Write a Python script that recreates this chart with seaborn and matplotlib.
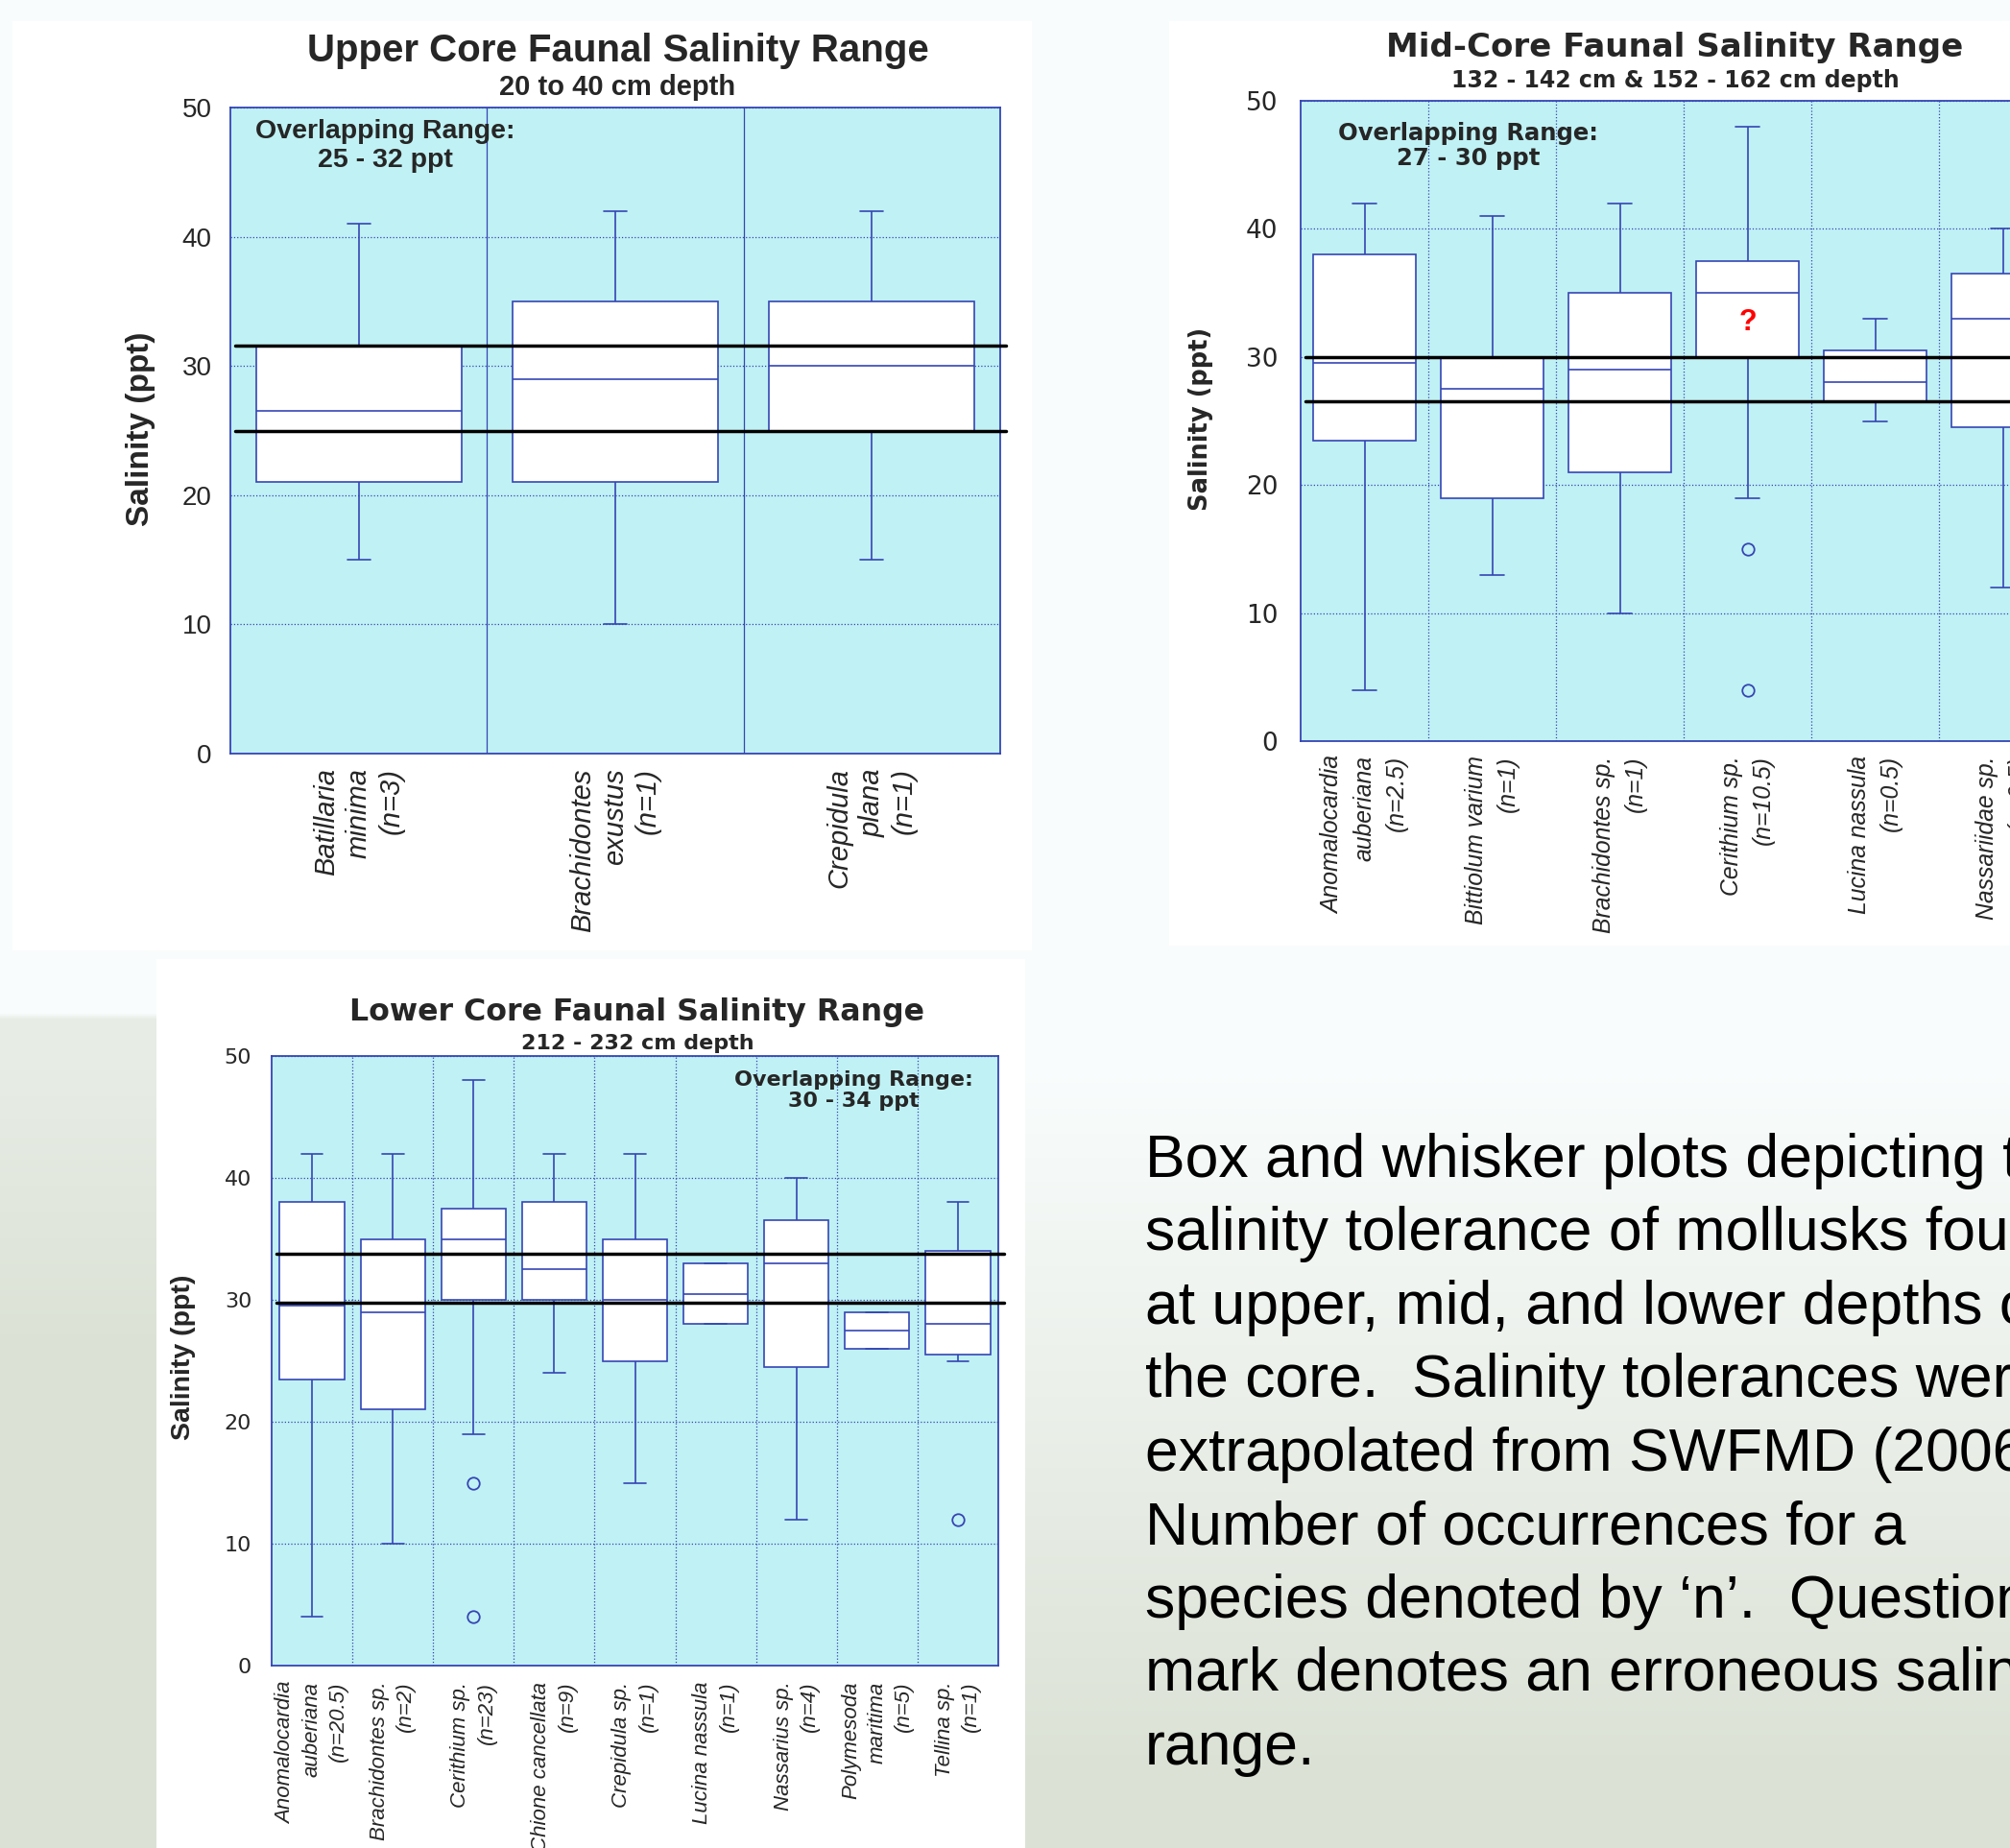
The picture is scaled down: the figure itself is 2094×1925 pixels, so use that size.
import numpy as np
import pandas as pd
import seaborn as sns
import matplotlib.pyplot as plt
from matplotlib.patches import Rectangle

W, H = 2094, 1925
BLUE = "#3545b5"
CYAN = "#c0f1f4"

# ---- upper core, 20 to 40 cm ----
upper_species = ["Batillaria\nminima\n(n=3)", "Brachidontes\nexustus\n(n=1)", "Crepidula\nplana\n(n=1)"]
upper_low = [15, 10, 15]
upper_q1 = [21, 21, 25]
upper_med = [26.5, 29, 30]
upper_q3 = [31.5, 35, 35]
upper_high = [41, 42, 42]
upper_out_species = []
upper_out_vals = []
upper_overlap = [25, 31.6]

# ---- mid core, 132-142 & 152-162 cm ----
mid_species = ["Anomalocardia\nauberiana\n(n=2.5)", "Bittiolum varium\n(n=1)", "Brachidontes sp.\n(n=1)",
               "Cerithium sp.\n(n=10.5)", "Lucina nassula\n(n=0.5)", "Nassariidae sp.\n(n=0.5)"]
mid_low = [4, 13, 10, 19, 25, 12]
mid_q1 = [23.5, 19, 21, 30, 26.5, 24.5]
mid_med = [29.5, 27.5, 29, 35, 28, 33]
mid_q3 = [38, 30, 35, 37.5, 30.5, 36.5]
mid_high = [42, 41, 42, 48, 33, 40]
mid_out_species = ["Cerithium sp.\n(n=10.5)", "Cerithium sp.\n(n=10.5)"]
mid_out_vals = [15, 4]
mid_overlap = [26.5, 30]
mid_flag_species = "Cerithium sp.\n(n=10.5)"
mid_flag_val = 32.7

# ---- lower core, 212-232 cm ----
lower_species = ["Anomalocardia\nauberiana\n(n=20.5)", "Brachidontes sp.\n(n=2)", "Cerithium sp.\n(n=23)",
                 "Chione cancellata\n(n=9)", "Crepidula sp.\n(n=1)", "Lucina nassula\n(n=1)",
                 "Nassarius sp.\n(n=4)", "Polymesoda\nmaritima\n(n=5)", "Tellina sp.\n(n=1)"]
lower_low = [4, 10, 19, 24, 15, 28, 12, 26, 25]
lower_q1 = [23.5, 21, 30, 30, 25, 28, 24.5, 26, 25.5]
lower_med = [29.5, 29, 35, 32.5, 30, 30.5, 33, 27.5, 28]
lower_q3 = [38, 35, 37.5, 38, 35, 33, 36.5, 29, 34]
lower_high = [42, 42, 48, 42, 42, 33, 40, 29, 38]
lower_out_species = ["Cerithium sp.\n(n=23)", "Cerithium sp.\n(n=23)", "Tellina sp.\n(n=1)"]
lower_out_vals = [15, 4, 12]
lower_overlap = [29.8, 33.8]

caption = ("Box and whisker plots depicting the\n"
           "salinity tolerance of mollusks found\n"
           "at upper, mid, and lower depths of\n"
           "the core.  Salinity tolerances were\n"
           "extrapolated from SWFMD (2006).\n"
           "Number of occurrences for a\n"
           "species denoted by \u2018n\u2019.  Question\n"
           "mark denotes an erroneous salinity\n"
           "range.")


def fx(px):
    return px / W


def fy(py):
    return 1 - py / H


def long_frame(names, low, q1, med, q3, high):
    rows = []
    for i, name in enumerate(names):
        for v in (low[i], q1[i], med[i], q3[i], high[i]):
            rows.append({"species": name, "salinity": v})
    return pd.DataFrame(rows)


def draw_panel(ax, names, low, q1, med, q3, high, out_names, out_vals, overlap,
               cap_w, sep_style, xfont, xsize, xspacing, yfont, ysize, ypad, xpad):
    df = long_frame(names, low, q1, med, q3, high)
    sns.boxplot(data=df, x="species", y="salinity", order=names, ax=ax,
                whis=(0, 100), width=0.8, color="white", linecolor=BLUE,
                linewidth=1.2, showfliers=False,
                capwidths=np.full(len(names), cap_w))
    if out_vals:
        sns.stripplot(x=out_names, y=out_vals, order=names, jitter=False, ax=ax,
                      size=9, color=CYAN, edgecolor=BLUE, linewidth=1.3, zorder=4)
    for v in overlap:
        ax.axhline(v, xmin=0.006, xmax=1.008, color="black", lw=2.5,
                   clip_on=False, zorder=6)
    ax.set_facecolor(CYAN)
    ax.set_xlim(-0.5, len(names) - 0.5)
    ax.set_ylim(0, 50)
    ax.set_xlabel("")
    ax.set_ylabel("")
    ax.set_yticks(range(0, 51, 10))
    ax.set_yticklabels([str(t) for t in range(0, 51, 10)], family=yfont, fontsize=ysize)
    ax.set_xticks(range(len(names)))
    ax.set_xticklabels(names, rotation=90, ha="center", va="top", multialignment="right",
                       fontstyle="italic", family=xfont, fontsize=xsize, linespacing=xspacing)
    ax.set_xticks(np.arange(0.5, len(names) - 1), minor=True)
    ax.grid(False)
    ax.yaxis.grid(True, which="major", ls=":", color=BLUE, lw=0.9)
    ax.xaxis.grid(True, which="minor", ls=sep_style, color=BLUE, lw=0.9)
    ax.set_axisbelow(True)
    ax.tick_params(axis="both", which="both", length=0)
    ax.tick_params(axis="y", pad=ypad)
    ax.tick_params(axis="x", pad=xpad)
    for s in ax.spines.values():
        s.set_visible(True)
        s.set_color(BLUE)
        s.set_linewidth(1.3)


sns.set_style("white")
plt.rcParams["font.family"] = ["Liberation Sans", "DejaVu Sans"]

fig = plt.figure(figsize=(W / 100, H / 100), dpi=100)

# slide background: pale, fading to a washed-out green-grey near the bottom
bg = fig.add_axes([0, 0, 1, 1], zorder=-10)
ny, nx = 300, 300
yy = np.linspace(0, 1, ny)[:, None]
xx = np.linspace(0, 1, nx)[None, :]
t = np.clip((yy - 0.58) / 0.38, 0, 1) * np.ones_like(xx)
left = ((xx < 0.078) & (yy > 0.55)).astype(float)
t = np.clip(t + 0.6 * left, 0, 1)
top_c = np.array([0.975, 0.99, 0.99])
bot_c = np.array([0.86, 0.885, 0.835])
img = top_c[None, None, :] * (1 - t[..., None]) + bot_c[None, None, :] * t[..., None]
bg.imshow(img, extent=[0, 1, 0, 1], origin="upper", aspect="auto", interpolation="bilinear")
bg.add_patch(Rectangle((fx(163), fy(1925)), fx(1068) - fx(163), fy(999) - fy(1925),
                       transform=bg.transAxes, color="white", lw=0))
bg.add_patch(Rectangle((fx(13), fy(990)), fx(1075) - fx(13), fy(22) - fy(990),
                       transform=bg.transAxes, color="white", lw=0))
bg.add_patch(Rectangle((fx(1218), fy(985)), 1 - fx(1218), fy(22) - fy(985),
                       transform=bg.transAxes, color="white", lw=0))
bg.set_xlim(0, 1)
bg.set_ylim(0, 1)
bg.axis("off")

# upper panel
ax1 = fig.add_axes([fx(240), fy(785), fx(1042) - fx(240), fy(112) - fy(785)])
draw_panel(ax1, upper_species, upper_low, upper_q1, upper_med, upper_q3, upper_high,
           upper_out_species, upper_out_vals, upper_overlap, 0.09, "-",
           ["Liberation Sans"], 21, 1.25, ["Liberation Sans"], 20, 14, 11)
fig.text(fx(644), fy(53), "Upper Core Faunal Salinity Range", ha="center", va="center",
         fontsize=29, fontweight="bold")
fig.text(fx(643), fy(91), "20 to 40 cm depth", ha="center", va="center",
         fontsize=21, fontweight="bold")
fig.text(fx(147), fy(447), "Salinity (ppt)", rotation=90, ha="center", va="center",
         fontsize=24, fontweight="bold")
fig.text(fx(401), fy(152), "Overlapping Range:\n25 - 32 ppt", ha="center", va="center",
         multialignment="center", fontsize=20.5, fontweight="bold", linespacing=1.25)

# mid panel (runs past the right edge of the slide)
ax2 = fig.add_axes([fx(1355), fy(772), 6 * 133 / W, fy(105) - fy(772)])
draw_panel(ax2, mid_species, mid_low, mid_q1, mid_med, mid_q3, mid_high,
           mid_out_species, mid_out_vals, mid_overlap, 0.19, ":",
           ["Liberation Sans"], 17.8, 1.5, ["DejaVu Sans"], 19, 17, 11)
ax2.text(mid_species.index(mid_flag_species), mid_flag_val, "?", color="red",
         ha="center", va="center", fontsize=22, fontweight="bold", zorder=7)
fig.text(fx(1745), fy(49), "Mid-Core Faunal Salinity Range", ha="center", va="center",
         fontsize=24.5, fontweight="bold", family="DejaVu Sans")
fig.text(fx(1745), fy(84), "132 - 142 cm & 152 - 162 cm depth", ha="center", va="center",
         fontsize=17, fontweight="bold", family="DejaVu Sans")
fig.text(fx(1251), fy(436), "Salinity (ppt)", rotation=90, ha="center", va="center",
         fontsize=18.5, fontweight="bold", family="DejaVu Sans")
fig.text(fx(1530), fy(152), "Overlapping Range:\n27 - 30 ppt", ha="center", va="center",
         multialignment="center", fontsize=17.5, fontweight="bold", family="DejaVu Sans",
         linespacing=1.15)

# lower panel
ax3 = fig.add_axes([fx(283), fy(1735), fx(1040) - fx(283), fy(1100) - fy(1735)])
draw_panel(ax3, lower_species, lower_low, lower_q1, lower_med, lower_q3, lower_high,
           lower_out_species, lower_out_vals, lower_overlap, 0.27, ":",
           ["Liberation Sans"], 16, 1.4, ["DejaVu Sans"], 16, 15, 12)
fig.text(fx(664), fy(1055), "Lower Core Faunal Salinity Range", ha="center", va="center",
         fontsize=22.8, fontweight="bold", family="DejaVu Sans")
fig.text(fx(664), fy(1087), "212 - 232 cm depth", ha="center", va="center",
         fontsize=16, fontweight="bold", family="DejaVu Sans")
fig.text(fx(191), fy(1414), "Salinity (ppt)", rotation=90, ha="center", va="center",
         fontsize=20.5, fontweight="bold")
fig.text(fx(889), fy(1136), "Overlapping Range:\n30 - 34 ppt", ha="center", va="center",
         multialignment="center", fontsize=16, fontweight="bold", family="DejaVu Sans",
         linespacing=1.15)

# caption on the right
fig.text(fx(1193), fy(1180), caption, ha="left", va="top", fontsize=45,
         linespacing=1.38, color="black")

fig.savefig("out.png", dpi=100)
